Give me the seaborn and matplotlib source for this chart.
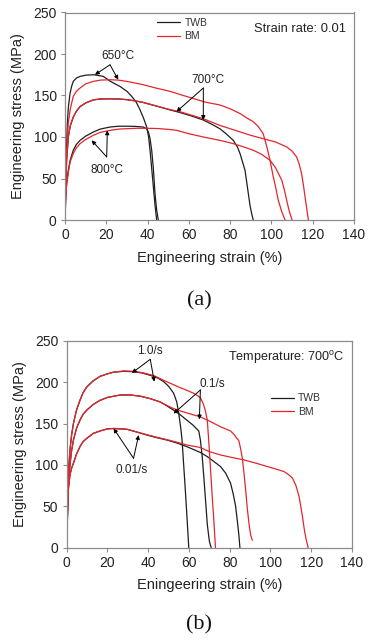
import numpy as np
import pandas as pd
import matplotlib
matplotlib.use("Agg")
import matplotlib.pyplot as plt
import seaborn as sns
from matplotlib.lines import Line2D

# ---------------- data (a): strain rate 0.01, temperatures ----------------
a_twb650_x = [0, 0.3, 0.6, 1.1, 1.6, 2.4, 3.2, 4, 5.5, 7.3, 10, 14, 18.6, 22, 26.6, 30, 32.3, 34.5, 36.3, 38, 39.6, 40.5, 41.2, 42, 42.8, 43.6, 44.4]
a_twb650_y = [0, 45, 75, 115, 135, 152, 161, 167, 171, 173, 174.5, 175, 173, 167, 161, 155, 149, 142, 133, 123, 112, 100, 84, 62, 40, 18, 0]
a_bm650_x = [0, 0.4, 0.8, 1.6, 2.5, 4, 5.5, 7.3, 10, 13.7, 17, 21.8, 26, 29.9, 33, 37.9, 44, 50.9, 56, 62, 68, 75, 80, 85, 88, 91.2, 93.5, 96, 97.8, 99.3, 100.9, 102, 103.3, 105, 106.6]
a_bm650_y = [0, 50, 80, 117, 133, 149, 155, 159, 164, 167, 168.5, 169, 168.5, 167, 165.5, 163, 159, 155, 151, 146.5, 142, 138.6, 134, 128, 123, 118.4, 113, 104, 88, 72, 52, 40, 24, 10, 0]
a_twb700_x = [0, 0.4, 0.8, 1.6, 2.5, 4, 5.5, 7.3, 10, 13.7, 17, 21.8, 26, 29.9, 34, 37.9, 44, 50.9, 55.7, 61, 67, 71, 75, 78, 81.5, 83.5, 84.8, 86, 87.2, 88, 88.8, 89.6, 90.4, 91.2]
a_twb700_y = [0, 45, 72, 100, 113, 124, 131, 136.6, 141, 144.7, 145.8, 146, 145.8, 145, 143.5, 141.6, 137.5, 132.6, 129.5, 125.5, 120.5, 115.5, 110, 104, 96, 88, 80, 70, 60, 46, 32, 18, 8, 0]
a_bm700_x = [0, 0.4, 0.8, 1.6, 2.5, 4, 5.5, 7.3, 10, 13.7, 17, 21.8, 26, 29.9, 34, 37.9, 44, 50.9, 55.7, 61, 67, 71, 75, 80, 85, 90, 96, 102, 107.4, 110, 112.2, 113.5, 114.6, 115.5, 116.3, 117.2, 117.9]
a_bm700_y = [0, 45, 72, 100, 113, 124, 131, 136.6, 141, 144.7, 145.8, 146, 145.8, 145, 143.5, 141.6, 137.5, 133, 130.5, 126.5, 122, 118, 114, 110, 106, 102, 98, 94, 88, 83, 76, 67, 56, 42, 27.6, 12, 0]
a_twb800_x = [0, 0.4, 0.8, 1.6, 2.5, 4, 5.5, 7.3, 10, 13.7, 17, 21.8, 26, 29.9, 34, 37.9, 39.5, 40.4, 41.2, 42, 42.8, 43.6, 44.4, 45.2]
a_twb800_y = [0, 30, 45, 60, 72, 84, 91, 96, 101, 106, 109.5, 112, 113, 113, 112.8, 112, 110, 106, 98, 84, 62, 32, 12, 0]
a_bm800_x = [0, 0.4, 0.8, 1.6, 2.5, 4, 5.5, 7.3, 10, 13.7, 17, 21.8, 26, 29.9, 35, 40, 45, 50.9, 54.1, 60, 67, 75, 81.5, 86, 91.2, 95, 99.3, 102, 105, 106.3, 107.4, 108.7, 110]
a_bm800_y = [0, 28, 42, 57, 70, 80, 87, 92, 97, 102, 105.5, 108, 109.5, 110, 110.5, 110.5, 110.2, 109, 108, 104, 100, 96, 92, 88.5, 84, 79.5, 72, 63, 48, 36, 23.6, 10, 0]

# ---------------- data (b): 700 C, strain rates ----------------
b_twb10_x = [0, 0.3, 0.8, 1.6, 2.4, 3.3, 4.8, 6.5, 8, 9.8, 13, 16.4, 20, 23, 28, 32.8, 37, 42.6, 45, 47.6, 50, 52.5, 54, 55, 56, 56.6, 57.4, 58.2, 59, 59.9]
b_twb10_y = [0, 40, 90, 118, 136, 150, 166, 178, 187, 194, 201.5, 207, 210, 212, 213, 212.6, 211, 207, 204.5, 200.5, 195, 186.5, 176, 162, 144, 130, 100, 70, 38, 0]
b_bm10_x = [0, 0.3, 0.8, 1.6, 2.4, 3.3, 4.8, 6.5, 8, 9.8, 13, 16.4, 20, 23, 28, 32.8, 37, 42.6, 46, 50.9, 55, 60, 62.3, 64, 65.6, 67, 68, 69, 69.8, 70.6, 71.4, 72.2, 73]
b_bm10_y = [0, 40, 90, 118, 136, 150, 166, 178, 187, 194, 201.5, 207, 210, 212, 213.5, 213, 211.5, 208, 204, 198.5, 194, 189, 186.5, 184, 181, 174, 166, 154, 125, 94, 62, 33, 0]
b_twb01_x = [0, 0.3, 0.8, 1.6, 2.4, 3.3, 4.8, 6.5, 8, 9.8, 13, 16.4, 20, 26.2, 31, 36.1, 41, 45.9, 49, 52.5, 56, 59, 62, 64.8, 65.6, 66.5, 67.3, 68.2, 69, 70, 70.9]
b_twb01_y = [0, 35, 75, 100, 117, 130, 144, 154, 161, 166, 173, 178, 181.5, 184.4, 184.5, 183, 180, 176, 171.5, 166, 160, 154, 148, 141, 130, 110, 85, 55, 28, 8, 0]
b_bm01_x = [0, 0.3, 0.8, 1.6, 2.4, 3.3, 4.8, 6.5, 8, 9.8, 13, 16.4, 20, 26.2, 31, 36.1, 41, 45.9, 49, 52.5, 56, 60, 65.6, 70, 75.5, 80.4, 82, 84.5, 85.3, 86.2, 87, 87.8, 88.6, 89.5, 90.3, 91.1]
b_bm01_y = [0, 35, 75, 100, 117, 130, 144, 154, 161, 166, 173, 178, 181.5, 184.4, 184.5, 183, 180, 176, 172, 168, 165, 162, 158, 153, 146, 141, 137, 129, 120, 108, 90, 70, 48, 28, 15, 9]
b_twb001_x = [0, 0.3, 0.8, 1.6, 2.4, 3.3, 4.8, 6.5, 8, 9.8, 13, 16.4, 20, 23, 29.6, 34, 39.4, 44, 49.2, 54, 59, 65.6, 69, 72, 75.5, 78, 80.4, 81.7, 82.9, 83.7, 84.5, 85]
b_twb001_y = [0, 30, 70, 88, 96, 102, 113, 122, 128, 132, 138, 141, 143.5, 144, 143, 140, 136, 133, 130, 126.5, 122, 115, 110, 104.5, 98, 90, 78, 65, 50, 33, 15, 0]
b_bm001_x = [0, 0.3, 0.8, 1.6, 2.4, 3.3, 4.8, 6.5, 8, 9.8, 13, 16.4, 20, 23, 29.6, 34, 39.4, 44, 49.2, 54, 59, 65.6, 70, 75.5, 81, 87, 93, 98.5, 102, 106.6, 109, 110.8, 112.5, 114, 115, 115.7, 116.6, 117.5, 118.2, 118.5]
b_bm001_y = [0, 30, 70, 88, 96, 102, 113, 122, 128, 132, 138, 141, 143.5, 144, 143, 140, 136.5, 133.5, 130.5, 127.5, 124, 121, 116, 112, 109, 106, 102, 98, 95.5, 92, 88, 84, 75, 62, 48, 37.5, 22, 10, 3, 0]

series_labels = ["TWB", "BM"]
xticks = [0, 20, 40, 60, 80, 100, 120, 140]
yticks = [0, 50, 100, 150, 200, 250]


def make_df(curves):
    frames = []
    for name, kind, xs, ys in curves:
        frames.append(pd.DataFrame({"strain": xs, "stress": ys, "type": kind, "cond": name}))
    return pd.concat(frames, ignore_index=True)


df_a = make_df([
    ("650", "TWB", a_twb650_x, a_twb650_y), ("650", "BM", a_bm650_x, a_bm650_y),
    ("700", "TWB", a_twb700_x, a_twb700_y), ("700", "BM", a_bm700_x, a_bm700_y),
    ("800", "TWB", a_twb800_x, a_twb800_y), ("800", "BM", a_bm800_x, a_bm800_y),
])
df_b = make_df([
    ("1.0", "TWB", b_twb10_x, b_twb10_y), ("1.0", "BM", b_bm10_x, b_bm10_y),
    ("0.1", "TWB", b_twb01_x, b_twb01_y), ("0.1", "BM", b_bm01_x, b_bm01_y),
    ("0.01", "TWB", b_twb001_x, b_twb001_y), ("0.01", "BM", b_bm001_x, b_bm001_y),
])

sns.set_theme(style="white")
plt.rcParams["font.family"] = ["Liberation Sans", "DejaVu Sans"]
plt.rcParams["mathtext.fontset"] = "custom"
plt.rcParams["mathtext.rm"] = "Liberation Sans"

BLACK = "#1e1e1e"
RED = "#e3262e"
palette = {"TWB": BLACK, "BM": RED}
SPINE = "#8c8c8c"

fig = plt.figure(figsize=(3.68, 6.40), dpi=100)
ax_a = fig.add_axes([65 / 368, 1 - 220 / 640, 289 / 368, 207.5 / 640])
ax_b = fig.add_axes([66.7 / 368, 1 - 547.7 / 640, 285.3 / 368, 207 / 640])

for ax, df in [(ax_a, df_a), (ax_b, df_b)]:
    sns.lineplot(data=df, x="strain", y="stress", hue="type", units="cond", estimator=None,
                 sort=False, palette=palette, linewidth=0.9, legend=False, ax=ax)
    ax.set_xlim(0, 140)
    ax.set_ylim(0, 250)
    ax.set_xticks(xticks)
    ax.set_yticks(yticks)
    for s in ax.spines.values():
        s.set_color(SPINE)
        s.set_linewidth(0.9)
    ax.tick_params(axis="both", direction="out", length=3, width=0.8, color=SPINE,
                   labelsize=10, labelcolor="#222222", pad=3, bottom=True, left=True)
    ax.set_ylabel("Engineering stress (MPa)", fontsize=10.5, color="#222222", labelpad=6)

ax_a.set_xlabel("Engineering strain (%)", fontsize=10.5, color="#222222", labelpad=6)
ax_b.set_xlabel("Eningeering strain (%)", fontsize=10.5, color="#222222", labelpad=6)

# legends
for ax, loc in [(ax_a, (0.32, 0.975)), (ax_b, (0.715, 0.745))]:
    handles = [Line2D([], [], color=palette[k], lw=0.9) for k in series_labels]
    ax.legend(handles, series_labels, loc="upper left", bbox_to_anchor=loc, frameon=False,
              fontsize=7.5, handlelength=2.2, handletextpad=0.4, labelspacing=0.35,
              borderaxespad=0, borderpad=0, labelcolor="#333333")

arrow = dict(arrowstyle="-|>", color="black", lw=0.7, mutation_scale=6, shrinkA=0, shrinkB=0)

# (a) annotations
ax_a.text(136, 230, "Strain rate: 0.01", ha="right", va="center", fontsize=9.3, color="#222222")
ax_a.text(25.5, 197, "650°C", ha="center", va="center", fontsize=8.5, color="#222222")
ax_a.annotate("", xy=(14.5, 175), xytext=(21.8, 187), arrowprops=arrow)
ax_a.annotate("", xy=(25.8, 169), xytext=(21.8, 187), arrowprops=arrow)
ax_a.text(69, 169, "700°C", ha="center", va="center", fontsize=8.5, color="#222222")
ax_a.annotate("", xy=(54, 130.5), xytext=(67, 159), arrowprops=arrow)
ax_a.annotate("", xy=(67, 120.5), xytext=(67, 159), arrowprops=arrow)
ax_a.text(20.2, 60, "800°C", ha="center", va="center", fontsize=8.5, color="#222222")
ax_a.annotate("", xy=(12.9, 96), xytext=(20.2, 76), arrowprops=arrow)
ax_a.annotate("", xy=(20.5, 108), xytext=(20.2, 76), arrowprops=arrow)

# (b) annotations
ax_b.text(136, 230, "Temperature: 700$^\\mathregular{o}$C", ha="right", va="center", fontsize=9.1,
          color="#222222")
ax_b.text(41, 238, "1.0/s", ha="center", va="center", fontsize=8.5, color="#222222")
ax_b.annotate("", xy=(32, 211), xytext=(41, 227.5), arrowprops=arrow)
ax_b.annotate("", xy=(43, 200.5), xytext=(41, 227.5), arrowprops=arrow)
ax_b.text(71.5, 198, "0.1/s", ha="center", va="center", fontsize=8.5, color="#222222")
ax_b.annotate("", xy=(52.5, 162), xytext=(65.6, 190.5), arrowprops=arrow)
ax_b.annotate("", xy=(65.1, 155), xytext=(65.6, 190.5), arrowprops=arrow)
ax_b.text(32, 94, "0.01/s", ha="center", va="center", fontsize=8.5, color="#222222")
ax_b.annotate("", xy=(23, 144), xytext=(32.8, 108), arrowprops=arrow)
ax_b.annotate("", xy=(35.3, 136), xytext=(32.8, 108), arrowprops=arrow)

fig.text(199 / 368, 1 - 301 / 640, "(a)", ha="center", va="center", fontsize=16,
         family=["Liberation Serif", "DejaVu Serif"], color="#111111")
fig.text(199 / 368, 1 - 625 / 640, "(b)", ha="center", va="center", fontsize=16,
         family=["Liberation Serif", "DejaVu Serif"], color="#111111")

fig.savefig("out.png", dpi=100)
